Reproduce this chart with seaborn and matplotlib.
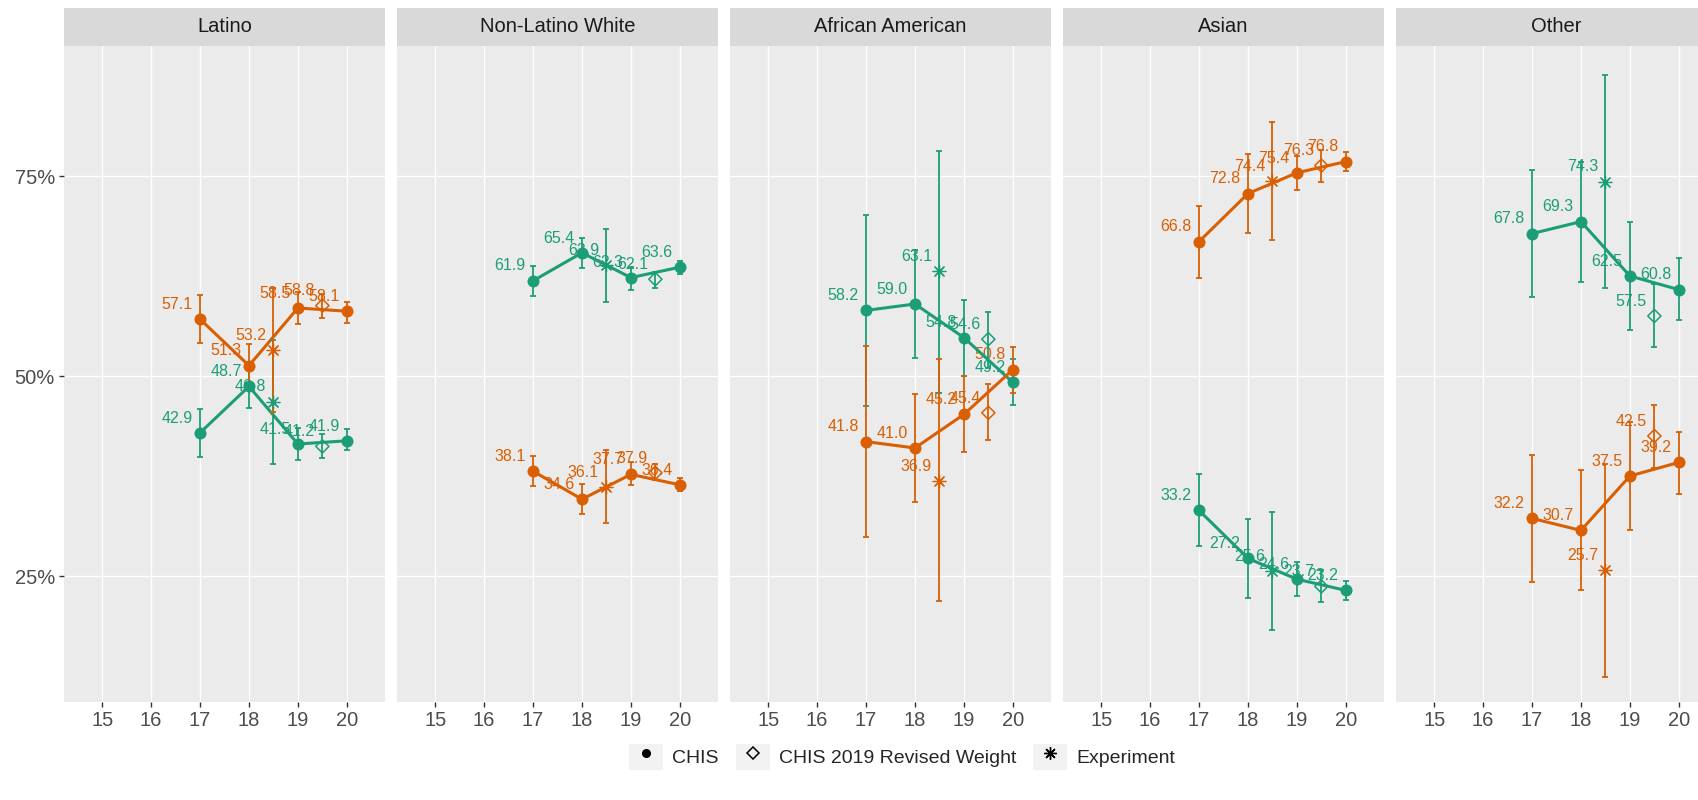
import matplotlib
matplotlib.use("Agg")
import matplotlib.pyplot as plt
from matplotlib.patches import Rectangle
from matplotlib.lines import Line2D
from matplotlib.legend_handler import HandlerTuple
import seaborn as sns
import pandas as pd

groups = ["Latino", "Non-Latino White", "African American", "Asian", "Other"]
chis_years = [17, 18, 19, 20]
exp_year = 18.5
rev_year = 19.5

# orange series (one row per group, CHIS years 17-20)
orange_chis = [[57.1, 51.3, 58.5, 58.1], [38.1, 34.6, 37.7, 36.4], [41.8, 41.0, 45.2, 50.8],
               [66.8, 72.8, 75.4, 76.8], [32.2, 30.7, 37.5, 39.2]]
orange_chis_lo = [[54.1, 48.6, 56.5, 56.6], [36.3, 32.8, 36.4, 35.6], [29.9, 34.3, 40.5, 47.9],
                  [62.3, 67.9, 73.2, 75.6], [24.2, 23.2, 30.7, 35.2]]
orange_chis_hi = [[60.1, 54.0, 60.5, 59.3], [40.0, 36.5, 39.2, 37.3], [53.8, 47.7, 50.0, 53.6],
                  [71.2, 77.7, 77.5, 78.0], [40.1, 38.2, 44.2, 43.0]]
orange_exp = [53.2, 36.1, 36.9, 74.4, 25.7]
orange_exp_lo = [45.5, 31.6, 21.9, 67.0, 12.4]
orange_exp_hi = [61.0, 40.7, 52.1, 81.8, 39.0]
orange_rev = [58.8, 37.9, 45.4, 76.3, 42.5]
orange_rev_lo = [57.2, 37.0, 42.0, 74.3, 38.5]
orange_rev_hi = [60.2, 39.0, 49.0, 78.2, 46.4]

# green series
green_chis = [[42.9, 48.7, 41.5, 41.9], [61.9, 65.4, 62.3, 63.6], [58.2, 59.0, 54.8, 49.2],
              [33.2, 27.2, 24.6, 23.2], [67.8, 69.3, 62.5, 60.8]]
green_chis_lo = [[39.9, 46.0, 39.5, 40.7], [60.0, 63.5, 60.8, 62.7], [46.2, 52.3, 50.0, 46.4],
                 [28.8, 22.3, 22.5, 22.0], [59.9, 61.8, 55.8, 57.0]]
green_chis_hi = [[45.9, 51.4, 43.5, 43.4], [63.7, 67.2, 63.6, 64.4], [70.1, 65.7, 59.5, 52.1],
                 [37.7, 32.1, 26.8, 24.4], [75.8, 76.8, 69.3, 64.8]]
green_exp = [46.8, 63.9, 63.1, 25.6, 74.3]
green_exp_lo = [39.0, 59.3, 47.9, 18.2, 61.0]
green_exp_hi = [54.5, 68.4, 78.1, 33.0, 87.6]
green_rev = [41.2, 62.1, 54.6, 23.7, 57.5]
green_rev_lo = [39.8, 61.0, 51.0, 21.8, 53.6]
green_rev_hi = [42.8, 63.0, 58.0, 25.7, 61.5]

palette = {"orange": "#D95F02", "green": "#1B9E77"}


def add_rows(rows, name, chis, lo, hi, exp, exp_lo, exp_hi, rev, rev_lo, rev_hi):
    for gi, g in enumerate(groups):
        for yi, yr in enumerate(chis_years):
            rows.append([g, name, "CHIS", yr, chis[gi][yi], lo[gi][yi], hi[gi][yi]])
        rows.append([g, name, "Experiment", exp_year, exp[gi], exp_lo[gi], exp_hi[gi]])
        rows.append([g, name, "CHIS 2019 Revised Weight", rev_year, rev[gi], rev_lo[gi], rev_hi[gi]])


rows = []
add_rows(rows, "green", green_chis, green_chis_lo, green_chis_hi, green_exp, green_exp_lo,
         green_exp_hi, green_rev, green_rev_lo, green_rev_hi)
add_rows(rows, "orange", orange_chis, orange_chis_lo, orange_chis_hi, orange_exp, orange_exp_lo,
         orange_exp_hi, orange_rev, orange_rev_lo, orange_rev_hi)
df = pd.DataFrame(rows, columns=["group", "series", "source", "year", "pct", "lo", "hi"])

sns.set_theme(style="darkgrid", rc={"axes.facecolor": "#EBEBEB", "grid.color": "white",
                                    "grid.linewidth": 1.0})
plt.rcParams["font.family"] = ["Liberation Sans", "DejaVu Sans"]

W, H = 1698, 800
fig = plt.figure(figsize=(W / 100, H / 100), dpi=100)

for i, g in enumerate(groups):
    left = (64 + 333 * i) / W
    ax = fig.add_axes([left, (H - 702) / H, 321 / W, 656 / H])
    strip = fig.add_axes([left, (H - 46) / H, 321 / W, 38 / H])
    sub = df[df["group"] == g]
    chis = sub[sub["source"] == "CHIS"]

    sns.lineplot(data=chis, x="year", y="pct", hue="series", palette=palette,
                 hue_order=["green", "orange"], linewidth=2.2, legend=False,
                 errorbar=None, ax=ax, zorder=3)

    for s in ["green", "orange"]:
        d = sub[sub["series"] == s]
        c = palette[s]
        ax.errorbar(d["year"], d["pct"], yerr=[d["pct"] - d["lo"], d["hi"] - d["pct"]],
                    fmt="none", ecolor=c, elinewidth=1.3, capsize=2.4, capthick=1.3, zorder=3)
        dc = d[d["source"] == "CHIS"]
        sns.scatterplot(x=dc["year"], y=dc["pct"], color=c, s=75, linewidth=0,
                        legend=False, ax=ax, zorder=4)
        dr = d[d["source"] == "CHIS 2019 Revised Weight"]
        ax.scatter(dr["year"], dr["pct"], marker="D", s=45, facecolors="none",
                   edgecolors=c, linewidths=1.1, zorder=4)
        de = d[d["source"] == "Experiment"]
        ax.scatter(de["year"], de["pct"], marker=(8, 2, 0), s=85, color=c,
                   linewidths=0.9, zorder=4)
        for _, r in d.iterrows():
            ax.text(r["year"] - 0.47, r["pct"] + 1.85, f"{r['pct']:.1f}", color=c,
                    fontsize=11.5, ha="center", va="center", zorder=2)

    ax.set_xlim(14.22, 20.78)
    ax.set_ylim(9.25, 91.25)
    ax.set_xticks([15, 16, 17, 18, 19, 20])
    ax.set_yticks([25, 50, 75])
    ax.set_yticklabels(["25%", "50%", "75%"])
    ax.set_xlabel("")
    ax.set_ylabel("")
    ax.grid(True, color="white", linewidth=1.0)
    for sp in ax.spines.values():
        sp.set_visible(False)
    ax.tick_params(axis="both", colors="#333333", labelcolor="#4D4D4D", labelsize=14.5,
                   length=3.5, width=1, pad=3, bottom=True, left=(i == 0), labelleft=(i == 0))

    strip.set_facecolor("#D9D9D9")
    strip.set_xticks([])
    strip.set_yticks([])
    strip.grid(False)
    for sp in strip.spines.values():
        sp.set_visible(False)
    strip.text(0.5, 0.5, g, ha="center", va="center", fontsize=14.5, color="#1A1A1A",
               transform=strip.transAxes)


def key_box():
    return Rectangle((0, 0), 1, 1, facecolor="#F2F2F2", edgecolor="none")


handles = [
    (key_box(), Line2D([], [], marker="o", color="black", linestyle="none", markersize=5.5)),
    (key_box(), Line2D([], [], marker="D", color="black", markerfacecolor="none",
                       linestyle="none", markersize=6.5, markeredgewidth=1.1)),
    (key_box(), Line2D([], [], marker=(8, 2, 0), color="black", linestyle="none",
                       markersize=9, markeredgewidth=1.0)),
]
fig.legend(handles, ["CHIS", "CHIS 2019 Revised Weight", "Experiment"],
           handler_map={tuple: HandlerTuple(ndivide=1, pad=0)}, loc="center left",
           bbox_to_anchor=(629 / W, 1 - 757 / H), ncol=3, frameon=False, fontsize=14,
           handlelength=1.75, handleheight=1.75, handletextpad=0.45, columnspacing=0.9,
           borderpad=0, borderaxespad=0)

fig.savefig("out.png", dpi=100, facecolor="white")
